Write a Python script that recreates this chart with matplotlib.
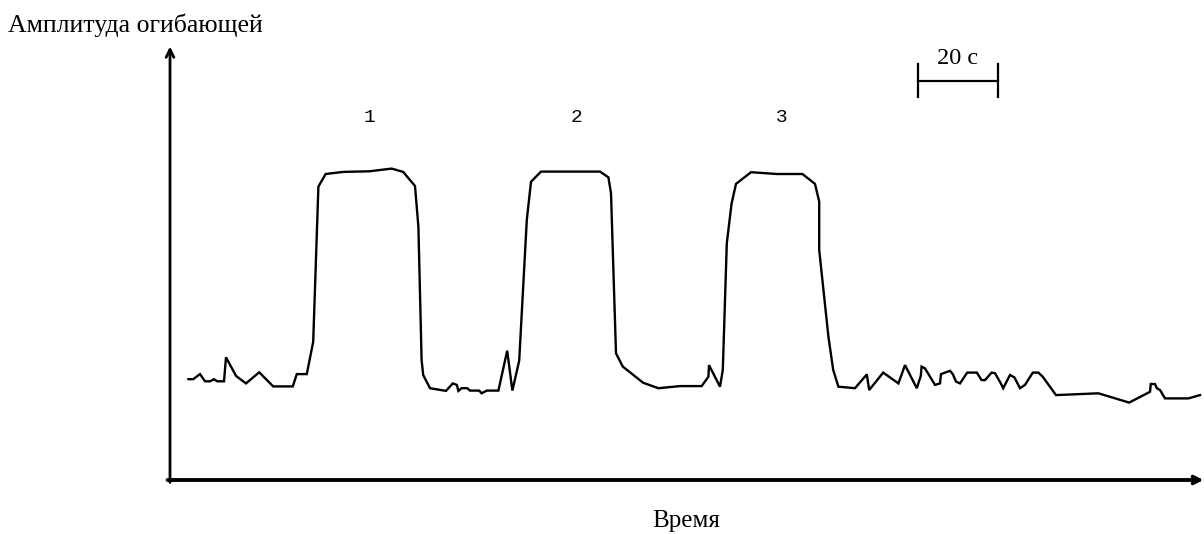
import matplotlib.pyplot as plt

# envelope amplitude trace: time in seconds, amplitude in arbitrary units
time_s = [4.6, 5.8, 7.5, 8.75, 10, 11, 11.8, 13.5, 14, 16.5, 19, 22.3, 25.8, 30.7,
          31.7, 34.2, 35.8, 37.1, 38.9, 43.3, 49.8, 55.4, 58.3, 61.25, 62.1, 62.9,
          63.3, 65, 69, 70.7, 71.7, 72.1, 72.9, 74.3, 75, 77.3, 77.9, 79.2, 82.1,
          84.3, 85.6, 87.3, 89.2, 90.25, 92.75, 107.5, 109.6, 110.25, 111.5, 113.2,
          118.3, 122.1, 127.5, 132.9, 134.6, 134.75, 137.5, 138.2, 139.2, 140.4,
          141.5, 145.25, 151.7, 158.1, 161.25, 162.3, 162.3, 164.6, 165.8, 167.1,
          171.25, 174.2, 174.8, 178.3, 182.1, 183.75, 186.7, 187.7, 187.9, 188.75,
          191.25, 192.5, 192.75, 195, 195.7, 196.5, 197.5, 199.3, 201.7, 202.9,
          203.75, 205.4, 206.25, 207.7, 208.3, 210, 211.1, 212.5, 213.75, 215.7,
          217.1, 218.2, 221.5, 232.1, 239.8, 245, 245.2, 246.25, 246.7, 247.5,
          248.75, 254.6, 257.5]
amplitude = [33.6, 33.6, 35.3, 32.9, 32.9, 33.6, 32.9, 32.9, 40.9, 34.7, 32.2, 35.9, 31.2, 31.2,
             35.3, 35.3, 46.1, 97.8, 102, 102.7, 102.9, 103.8, 102.7, 98, 84.4, 40,
             35, 30.6, 29.7, 32.2, 31.7, 29.7, 30.6, 30.6, 29.8, 29.8, 28.9, 29.8, 29.8,
             43.1, 29.8, 39.8, 86.7, 99.4, 102.8, 102.8, 100.9, 95.6, 42.2, 37.8,
             32.4, 30.6, 31.3, 31.3, 34.4, 38.3, 31.1, 36.7, 78.9, 92.2,
             98.7, 102.6, 102, 102, 98.7, 92.8, 76.7, 47.8, 36.7, 31.1,
             30.6, 35.2, 30, 35.8, 32.2, 38.3, 30.6, 34.7, 37.8, 37.2,
             31.7, 32.2, 35.3, 36.4, 35.3, 32.8, 32.2, 35.8, 35.8, 33.3,
             33.3, 35.8, 35.6, 32.2, 30.6, 35, 34.2, 30.6, 31.7, 35.8,
             35.8, 34.4, 28.3, 28.9, 25.8, 29.4, 32, 32, 30.6, 30,
             27.2, 27.2, 28.3]

# pulse numbers and where they sit
pulse_labels = ['1', '2', '3']
pulse_centers = [49.75, 101.5, 153]

scale_start = 187
scale_len = 20  # seconds

plt.rcParams['font.family'] = ['Liberation Serif', 'DejaVu Serif']

fig = plt.figure(figsize=(12.04, 5.34), dpi=100)
ax = fig.add_axes([0, 0, 1, 1])
ax.set_xlim(-42.5, 258.5)
ax.set_ylim(-18, 160)
ax.axis('off')

# axes with arrows
ax.annotate('', xy=(0, 144.5), xytext=(0, -0.8),
            arrowprops=dict(arrowstyle='->', lw=2.0, color='black',
                            shrinkA=0, shrinkB=0, mutation_scale=14))
ax.annotate('', xy=(258.4, 0), xytext=(-0.6, 0),
            arrowprops=dict(arrowstyle='->', lw=2.8, color='black',
                            shrinkA=0, shrinkB=0, mutation_scale=12))

ax.plot(time_s, amplitude, color='black', lw=1.7, solid_joinstyle='miter')

for lab, tc in zip(pulse_labels, pulse_centers):
    ax.text(tc, 121, lab, family='Liberation Mono', fontsize=14,
            ha='center', va='center')

# 20 s scale bar
ax.plot([scale_start, scale_start + scale_len], [133, 133], color='black', lw=1.6)
ax.plot([scale_start, scale_start], [127.7, 138.8], color='black', lw=1.6)
ax.plot([scale_start + scale_len] * 2, [127.7, 138.8], color='black', lw=1.6)
ax.text(scale_start + scale_len / 2, 140.5, '20 с', fontsize=17.5,
        ha='center', va='center')

ax.text(-40.5, 151.7, 'Амплитуда огибающей', fontsize=18.5, ha='left', va='center')
ax.text(129, -13.7, 'Время', fontsize=18, ha='center', va='center')

fig.savefig('out.png', dpi=100)
